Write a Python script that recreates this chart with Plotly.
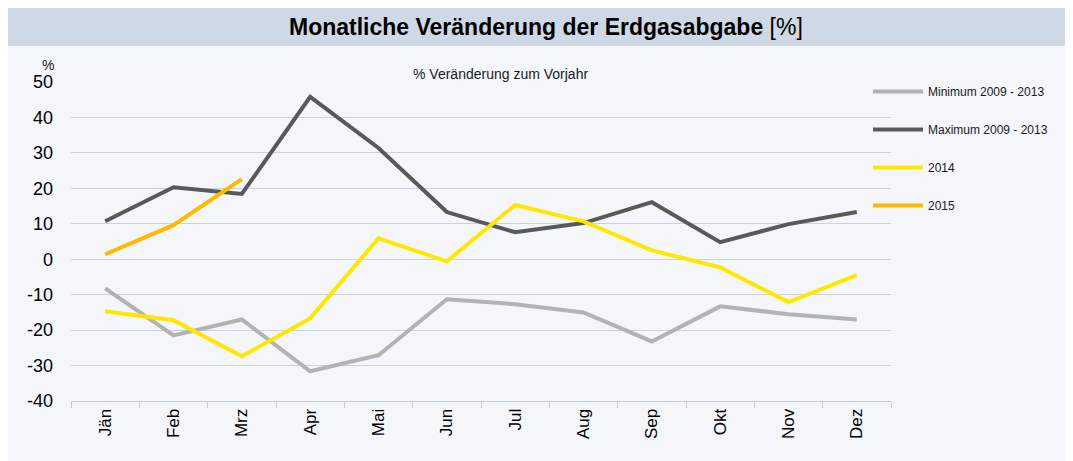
import plotly.graph_objects as go

months = ["Jän", "Feb", "Mrz", "Apr", "Mai", "Jun", "Jul", "Aug", "Sep", "Okt", "Nov", "Dez"]
min_0913 = [-8.2, -21.5, -17.0, -31.6, -27.1, -11.3, -12.7, -15.0, -23.2, -13.3, -15.5, -17.0]
max_0913 = [10.7, 20.3, 18.4, 45.8, 31.4, 13.3, 7.6, 10.2, 16.1, 4.8, 9.9, 13.3]
y2014 = [-14.7, -17.2, -27.4, -16.7, 5.9, -0.6, 15.3, 10.7, 2.5, -2.3, -12.1, -4.5]
y2015 = [1.4, 9.6, 22.6]
y_ticks = [50, 40, 30, 20, 10, 0, -10, -20, -30, -40]
y_ticktext = ["50", "40", "30", "20", "10", "0", "-10", "-20", "-30", "-40"]

series = [
    ("Minimum 2009 - 2013", min_0913, "#b3b3b3"),
    ("Maximum 2009 - 2013", max_0913, "#595959"),
    ("2014", y2014, "#ffe800"),
    ("2015", y2015, "#ffb900"),
]

OFF = 8  # default page body margin
W, H = 1073 - OFF, 461 - OFF
L, R, T, B = 71, 891, 82, 401  # target pixel positions in the screenshot

fig = go.Figure()
for i, (name, vals, col) in enumerate(series):
    fig.add_trace(go.Scatter(
        x=months[:len(vals)], y=vals, name=name, mode="lines",
        line=dict(color=col, width=4), legendgroup=f"g{i}",
    ))

def px_x(p):
    return (p - L) / (R - L)

def px_y(p):
    return (B - p) / (B - T)

FONT = "Liberation Sans, Arial"

shapes = [
    dict(type="rect", xref="paper", yref="paper", x0=px_x(6), x1=px_x(1090), y0=px_y(480), y1=px_y(46),
         fillcolor="#f4f6fa", line=dict(width=0), layer="below"),
    dict(type="rect", xref="paper", yref="paper", x0=px_x(6), x1=px_x(1090), y0=px_y(46), y1=px_y(5),
         fillcolor="#cfd9e5", line=dict(width=0), layer="below"),
    dict(type="line", xref="paper", yref="paper", x0=px_x(6.5), x1=px_x(6.5), y0=px_y(480), y1=px_y(5),
         line=dict(color="#c5d2e2", width=1), layer="below"),
    dict(type="line", xref="paper", yref="paper", x0=px_x(6), x1=px_x(1090), y0=px_y(4.5), y1=px_y(4.5),
         line=dict(color="#e3e9f0", width=1), layer="below"),
]

annotations = [
    dict(text="<b>Monatliche Veränderung der Erdgasabgabe</b> [%]", xref="paper", yref="paper",
         x=px_x(546), y=px_y(27), xanchor="center", yanchor="middle", showarrow=False,
         font=dict(family=FONT, size=23, color="#000000")),
    dict(text="% Veränderung zum Vorjahr", xref="paper", yref="paper",
         x=px_x(500), y=px_y(74), xanchor="center", yanchor="middle", showarrow=False,
         font=dict(family=FONT, size=14, color="#1a1a1a")),
    dict(text="%", xref="paper", yref="paper",
         x=px_x(48), y=px_y(65), xanchor="center", yanchor="middle", showarrow=False,
         font=dict(family=FONT, size=14, color="#1a1a1a")),
]

fig.update_layout(
    width=W, height=H,
    margin=dict(l=L - OFF, r=(W + OFF) - R, t=T - OFF, b=(H + OFF) - B, pad=0),
    paper_bgcolor="#ffffff", plot_bgcolor="rgba(0,0,0,0)",
    font=dict(family=FONT, color="#000000"),
    showlegend=True,
    legend=dict(x=px_x(868), y=px_y(77), xanchor="left", yanchor="top",
                bgcolor="rgba(0,0,0,0)", font=dict(size=12, color="#1a1a1a"),
                tracegroupgap=19, itemwidth=50),
    shapes=shapes, annotations=annotations,
    xaxis=dict(type="category", categoryorder="array", categoryarray=months,
               range=[-0.5, 11.5], showgrid=False, showline=True, linecolor="#bfcadb", linewidth=1,
               ticks="outside", tickson="boundaries", ticklen=6, tickcolor="#bfcadb",
               tickangle=-90, tickfont=dict(size=17, color="#000000"), zeroline=False),
    yaxis=dict(range=[-40, 50], tickvals=y_ticks, ticktext=y_ticktext, showgrid=True,
               gridcolor="#c9d2e0", gridwidth=1,
               zeroline=False, showline=False, ticks="", tickfont=dict(size=18, color="#000000"),
               ticklabelstandoff=17),
)

fig.write_html("out.html")
